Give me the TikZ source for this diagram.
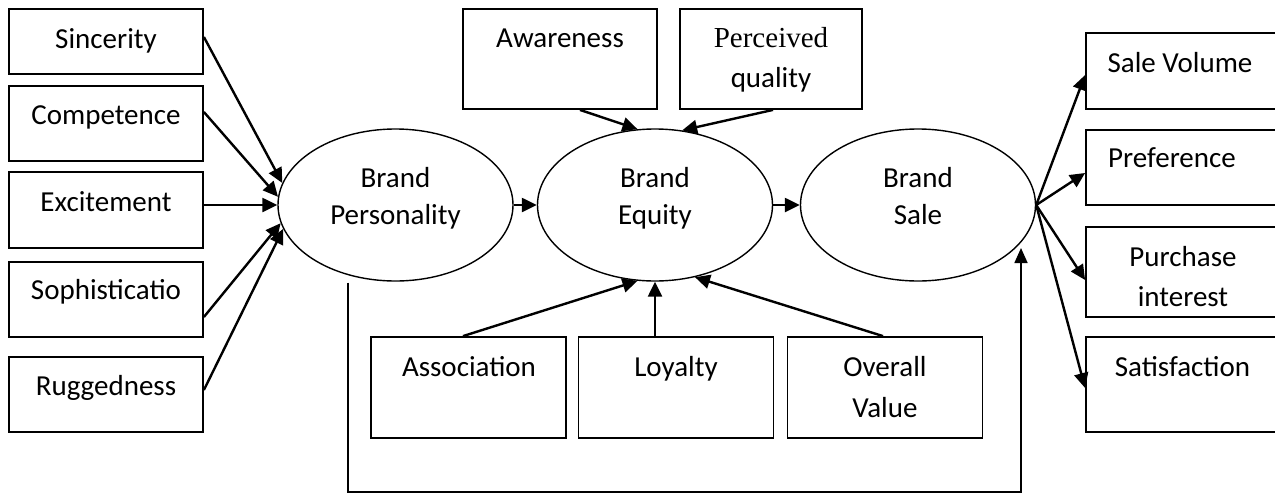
\documentclass[tikz,border=0pt]{standalone}
\usepackage{fontspec}
\setmainfont{Carlito}
\newfontfamily\timesfont{Liberation Serif}
\usetikzlibrary{arrows.meta,shapes.geometric}
\begin{document}
\begin{tikzpicture}[x=1pt,y=-1pt,
  box/.style={draw,line width=1.8pt,inner sep=0pt,minimum width=194pt},
  rbox/.style={draw,line width=1.8pt,inner sep=0pt,minimum width=200pt},
  oval/.style={draw,ellipse,line width=1.4pt,inner sep=0pt,minimum width=235pt,minimum height=152pt},
  txt/.style={inner sep=0pt,anchor=base,font=\fontsize{29}{35}\selectfont},
  arr/.style={line width=2.4pt,-{Triangle[length=15pt,width=14pt]}},
  fb/.style={line width=1.6pt,-{Triangle[length=15pt,width=13pt]}}]
\useasboundingbox (0,0) rectangle (1275,493);
\clip (0,0) rectangle (1275,493);
% left boxes
\node[box,minimum height=65pt] (sinc) at (106,41.5) {};
\node[box,minimum height=75pt] (comp) at (106,123.5) {};
\node[box,minimum height=76pt] (exci) at (106,210) {};
\node[box,minimum height=75pt] (soph) at (106,299.5) {};
\node[box,minimum height=75pt] (rugg) at (106,394.5) {};
\node[txt] (tsinc) at (106,48) {Sincerity};
\node[txt] (tcomp) at (106,124) {Competence};
\node[txt] (texci) at (106,211) {Excitement};
\node[txt] (tsoph) at (106,299) {Sophisticatio};
\node[txt] (trugg) at (106,395) {Ruggedness};
% ellipses
\node[oval] (bp) at (395.5,205) {};
\node[oval] (be) at (655,205) {};
\node[oval] (bs) at (918,205) {};
\node[txt] (tbp1) at (395.5,187) {Brand};
\node[txt] (tbp2) at (395.5,224) {Personality};
\node[txt] (tbe1) at (655,187) {Brand};
\node[txt] (tbe2) at (655,224) {Equity};
\node[txt] (tbs1) at (918,187) {Brand};
\node[txt] (tbs2) at (918,224) {Sale};
% top boxes
\node[box,minimum width=194.5pt,minimum height=100pt] (aw) at (560,59) {};
\node[box,minimum width=182pt,minimum height=100pt] (pq) at (771,59) {};
\node[txt] (taw) at (560,47.5) {Awareness};
\node[txt,font=\fontsize{29}{35}\selectfont\timesfont] (tpq1) at (771,47.5) {Perceived};
\node[txt] (tpq2) at (771,87) {quality};
% bottom boxes
\node[box,minimum width=195pt,minimum height=101pt] (as) at (468.5,387.5) {};
\node[box,minimum width=195pt,minimum height=101pt] (lo) at (676,387.5) {};
\node[box,minimum width=195pt,minimum height=101pt] (ov) at (885,387.5) {};
\node[txt] (tas) at (469,376) {Association};
\node[txt] (tlo) at (676,376) {Loyalty};
\node[txt] (tov1) at (885,376) {Overall};
\node[txt] (tov2) at (885,417) {Value};
% right boxes
\node[rbox,minimum height=76pt] (sv) at (1186,71) {};
\node[rbox,minimum height=75pt] (pr) at (1186,167.5) {};
\node[rbox,minimum height=90pt] (pi) at (1186,272) {};
\node[rbox,minimum height=95pt] (sa) at (1186,384.5) {};
\node[txt] (tsv) at (1180,72.5) {Sale Volume};
\node[txt] (tpr) at (1172,167.5) {Preference};
\node[txt] (tpi1) at (1183,266.5) {Purchase};
\node[txt] (tpi2) at (1183,306.5) {interest};
\node[txt] (tsa) at (1182.5,376.5) {Satisfaction};
% left arrows
\draw[arr] ([shift={(0,-4.5)}]sinc.east) -- (bp.169);
\draw[arr] ([shift={(0,-11.5)}]comp.east) -- (bp.176);
\draw[arr] ([shift={(0,-5)}]exci.east) -- (bp.180);
\draw[arr] ([shift={(0,17.5)}]soph.east) -- (bp.189);
\draw[arr] ([shift={(0,-4.5)}]rugg.east) -- (bp.192);
% middle arrows
\draw[arr] (bp.east) -- (be.west);
\draw[arr] (be.east) -- (bs.west);
% top arrows
\draw[arr] ([shift={(20,0)}]aw.south) -- (be.103);
\draw[arr] ([shift={(2,0)}]pq.south) -- (be.70);
% bottom arrows
\draw[arr] ([shift={(-5.5,0)}]as.north) -- (be.257);
\draw[arr] (lo.north -| be.south) -- (be.south);
\draw[arr] ([shift={(-2,0)}]ov.north) -- (be.299);
% right arrows
\draw[arr] (bs.east) -- ([shift={(0,4)}]sv.west);
\draw[arr] (bs.east) -- ([shift={(0,5.5)}]pr.west);
\draw[arr] (bs.east) -- ([shift={(0,8)}]pi.west);
\draw[arr] (bs.east) -- ([shift={(0,3.5)}]sa.west);
% feedback
\draw[fb] ([shift={(-47.5,1)}]bp.south) -- ++(0,209) -| ([shift={(103,43)}]bs.center);
\end{tikzpicture}
\end{document}
